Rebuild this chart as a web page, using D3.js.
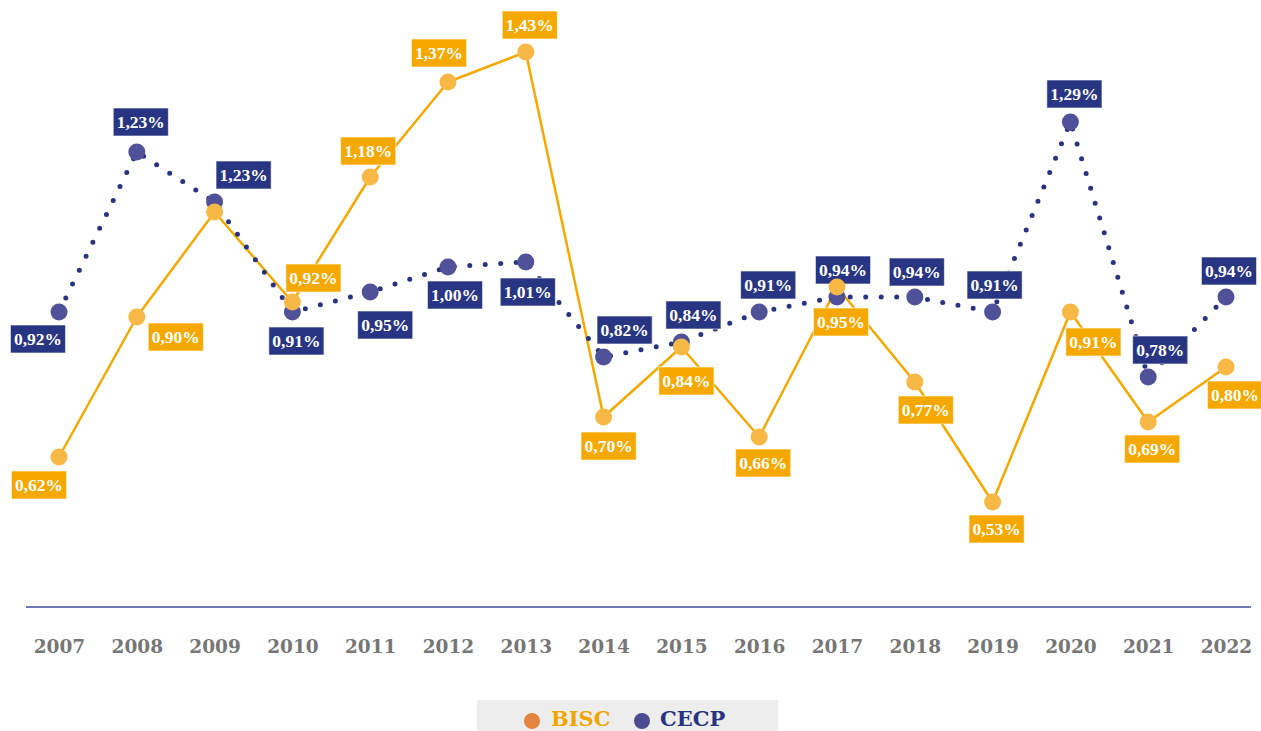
<!DOCTYPE html>
<html><head><meta charset="utf-8">
<script src="https://cdn.jsdelivr.net/npm/d3@7"></script>
<style>
html,body{margin:0;padding:0;background:#fff;}
svg{display:block;font-family:"Liberation Serif","DejaVu Serif",serif;}
</style></head>
<body>
<svg id="chart" width="1261" height="731"></svg>
<script>
// ---- data ----
const years = ["2007","2008","2009","2010","2011","2012","2013","2014","2015","2016","2017","2018","2019","2020","2021","2022"];
const bisc  = [0.62,0.90,1.11,0.93,1.18,1.37,1.43,0.70,0.84,0.66,0.96,0.77,0.53,0.91,0.69,0.80];
const cecp  = [0.91,1.23,1.13,0.91,0.95,1.00,1.01,0.82,0.85,0.91,0.94,0.94,0.91,1.29,0.78,0.94];
const biscLabels = ["0,62%","0,90%","","0,92%","1,18%","1,37%","1,43%","0,70%","0,84%","0,66%","0,95%","0,77%","0,53%","0,91%","0,69%","0,80%"];
const cecpLabels = ["0,92%","1,23%","1,23%","0,91%","0,95%","1,00%","1,01%","0,82%","0,84%","0,91%","0,94%","0,94%","0,91%","1,29%","0,78%","0,94%"];
const seriesNames = ["BISC","CECP"];

// ---- layout (label nudges in px, relative to point) ----
const biscOff = [[-20,28],[39,20],[0,0],[21,-24],[-2,-26],[-9,-29],[4,-27],[5,29],[5,34],[4,26],[4,35],[11,28],[4,27],[23,30],[4,27],[9,28]];
const cecpOff = [[-21,27],[4,-30],[29,-27],[4,29],[15,33],[7,28],[2,30],[21,-27],[12,-27],[9,-27],[6,-27],[2,-25],[2,-27],[4,-28],[12,-27],[3,-26]];

const C = {
  biscLine:"#F5A800", biscDot:"#F8B845", biscBox:"#F5A800",
  cecpLine:"#283480", cecpDot:"#4F5299", cecpBox:"#283583",
  axis:"#3D4C9C", tick:"#767676"
};

const svg = d3.select("#chart");
const x = d3.scalePoint().domain(years).range([59,1226]);
const y = d3.scaleLinear().domain([0.3,1.5]).range([617,17]);

// axis baseline
svg.append("line").attr("x1",26).attr("x2",1251).attr("y1",607).attr("y2",607)
  .attr("stroke",C.axis).attr("stroke-width",1.5);

// x axis labels
const xAxis = d3.axisBottom(x).tickSize(0).tickPadding(0);
const gx = svg.append("g").attr("transform","translate(0,640)").call(xAxis);
gx.select(".domain").remove();
gx.selectAll("text").attr("font-family","'DejaVu Serif',serif").attr("font-size",18.5)
  .attr("font-weight","bold").attr("fill",C.tick).attr("dy","0.71em").attr("y",0);

const line = d3.line().x((d,i)=>x(years[i])).y(d=>y(d));

// BISC solid line
svg.append("path").datum(bisc).attr("d",line).attr("fill","none")
  .attr("stroke",C.biscLine).attr("stroke-width",2.5).attr("stroke-linejoin","round");
// CECP dotted line
svg.append("path").datum(cecp).attr("d",line).attr("fill","none")
  .attr("stroke",C.cecpLine).attr("stroke-width",5).attr("stroke-linecap","round")
  .attr("stroke-dasharray","0 15.5");

function drawLabels(vals, labels, offs, fill){
  const g = svg.append("g");
  vals.forEach((v,i)=>{
    if(!labels[i]) return;
    const cx = x(years[i]) + offs[i][0], cy = y(v) + offs[i][1];
    const lg = g.append("g").attr("transform",`translate(${cx},${cy})`);
    const rect = lg.append("rect").attr("fill",fill).attr("stroke","rgba(255,255,255,0.6)").attr("stroke-width",1);
    const t = lg.append("text").text(labels[i]).attr("text-anchor","middle").attr("dy","0.35em")
      .attr("font-size",17.5).attr("font-weight","bold").attr("fill","#fff");
    const w = t.node().getComputedTextLength() + 7;
    rect.attr("x",-w/2).attr("y",-14).attr("width",w).attr("height",28);
  });
}
drawLabels(cecp, cecpLabels, cecpOff, C.cecpBox);
drawLabels(bisc, biscLabels, biscOff, C.biscBox);

// points
svg.append("g").selectAll("circle").data(cecp).join("circle")
  .attr("cx",(d,i)=>x(years[i])).attr("cy",d=>y(d)).attr("r",8.5).attr("fill",C.cecpDot);
svg.append("g").selectAll("circle").data(bisc).join("circle")
  .attr("cx",(d,i)=>x(years[i])).attr("cy",d=>y(d)).attr("r",8.5).attr("fill",C.biscDot);

// legend
const lg = svg.append("g");
lg.append("rect").attr("x",477).attr("y",700).attr("width",301).attr("height",31).attr("fill","#EDEDED");
lg.append("circle").attr("cx",532).attr("cy",721).attr("r",8).attr("fill","#E4843F");
lg.append("text").attr("x",551).attr("y",726).text(seriesNames[0]).attr("font-size",21)
  .attr("font-family","'DejaVu Serif',serif").attr("font-weight","bold").attr("fill","#F0A500");
lg.append("circle").attr("cx",642).attr("cy",721).attr("r",8).attr("fill","#4B4C8F");
lg.append("text").attr("x",660).attr("y",726).text(seriesNames[1]).attr("font-size",21)
  .attr("font-family","'DejaVu Serif',serif").attr("font-weight","bold").attr("fill","#283480");
</script>
</body></html>
